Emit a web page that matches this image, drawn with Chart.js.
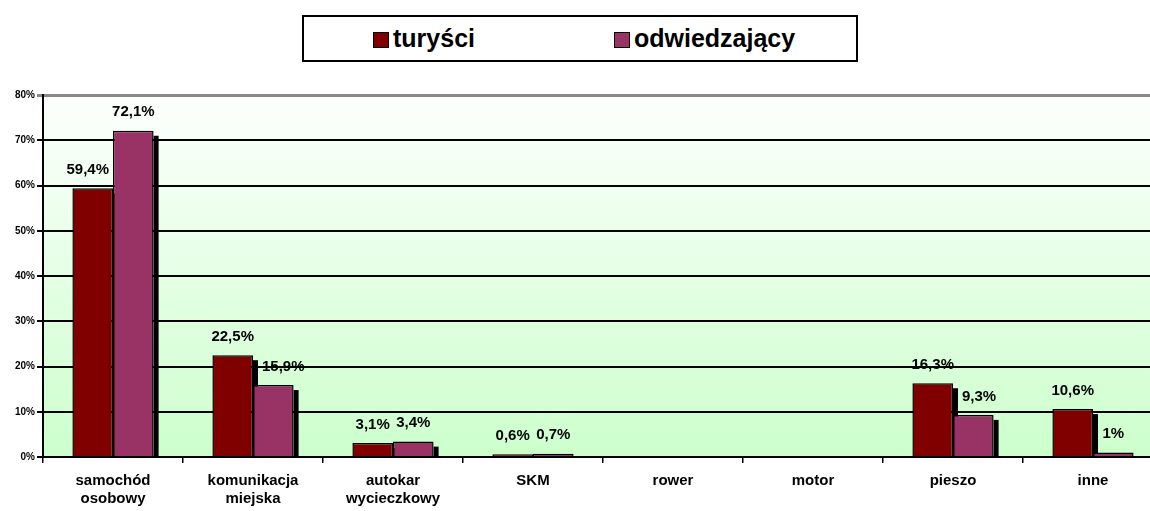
<!DOCTYPE html>
<html>
<head>
<meta charset="utf-8">
<script src="https://cdn.jsdelivr.net/npm/chart.js@4"></script>
<style>
  html, body { margin: 0; padding: 0; background: #fff; overflow: hidden; }
  #wrap { position: relative; width: 1150px; height: 511px; overflow: hidden; }
  #chart { position: absolute; left: 0; top: 0; }
  #legend {
    position: absolute; left: 302px; top: 15px; width: 552px; height: 43px;
    border: 2px solid #000; background: #fff;
    font: bold 25px "Liberation Sans", Arial, sans-serif; color: #000;
  }
  .item { position: absolute; top: 8px; line-height: 26px; white-space: nowrap; }
  .sw { display: inline-block; width: 14px; height: 14px; border: 1.5px solid #000; margin-right: 4px; vertical-align: -1px; }
</style>
</head>
<body>
<div id="wrap">
  <!-- obszar wykresu wychodzi poza prawą krawędź, jak w oryginale -->
  <canvas id="chart" width="1166" height="511"></canvas>
  <div id="legend">
    <span class="item" style="left:69px"><span class="sw" style="background:#800000"></span>turyści</span>
    <span class="item" style="left:310px"><span class="sw" style="background:#993366"></span>odwiedzający</span>
  </div>
</div>
<script>
// dane
const kategorie = [['samochód', 'osobowy'], ['komunikacja', 'miejska'], ['autokar', 'wycieczkowy'], 'SKM', 'rower', 'motor', 'pieszo', 'inne'];
const turysci = [59.4, 22.5, 3.1, 0.6, null, null, 16.3, 10.6];
const odwiedzajacy = [72.1, 15.9, 3.4, 0.7, null, null, 9.3, 1];
const yTicks = [0, 10, 20, 30, 40, 50, 60, 70, 80];

const FONT = '"Liberation Sans", Arial, sans-serif';
const CIEN = 5; // przesunięcie cienia słupka

// tło z gradientem w obszarze wykresu
const tloPlugin = {
    id: 'tlo',
    beforeDraw(chart) {
        const { ctx, chartArea: a } = chart;
        const g = ctx.createLinearGradient(0, a.top, 0, a.bottom);
        g.addColorStop(0, '#fdfffd');
        g.addColorStop(1, '#ccffcc');
        ctx.save();
        ctx.fillStyle = g;
        ctx.fillRect(a.left, a.top, a.right - a.left, a.bottom - a.top);
        ctx.restore();
    }
};

// cienie słupków + etykiety wartości
const slupkiPlugin = {
    id: 'slupki',
    beforeDatasetsDraw(chart) {
        const ctx = chart.ctx;
        ctx.save();
        ctx.fillStyle = '#000';
        chart.data.datasets.forEach((ds, i) => {
            chart.getDatasetMeta(i).data.forEach((bar, j) => {
                if (ds.data[j] == null) return;
                const p = bar.getProps(['x', 'y', 'base', 'width'], true);
                const right = p.x + p.width / 2;
                const top = Math.min(p.y + CIEN, p.base);
                ctx.fillRect(right, top, CIEN, p.base - top);
            });
        });
        ctx.restore();
    },
    afterDatasetsDraw(chart) {
        const ctx = chart.ctx;
        ctx.save();
        ctx.font = 'bold 15px ' + FONT;
        ctx.fillStyle = '#000';
        ctx.textAlign = 'center';
        ctx.textBaseline = 'bottom';
        const metas = chart.data.datasets.map((ds, i) => chart.getDatasetMeta(i));
        chart.data.datasets.forEach((ds, i) => {
            metas[i].data.forEach((bar, j) => {
                const v = ds.data[j];
                if (v == null) return;
                const p = bar.getProps(['x', 'y', 'width'], true);
                const txt = String(v).replace('.', ',') + '%';
                const w = ctx.measureText(txt).width;
                const yb = p.y - 11;
                let x = p.x;
                // odsuń etykietę od sąsiedniego, wyższego słupka
                if (i === 0 && metas[1] && odwiedzajacy[j] != null) {
                    const n = metas[1].data[j].getProps(['x', 'y', 'width'], true);
                    const nLeft = n.x - n.width / 2;
                    if (n.y < yb && x + w / 2 > nLeft - 4) x = nLeft - 4 - w / 2;
                }
                if (i === 1 && turysci[j] != null) {
                    const n = metas[0].data[j].getProps(['x', 'y', 'width'], true);
                    const shRight = n.x + n.width / 2 + CIEN;
                    if (n.y + CIEN < yb && x - w / 2 < shRight + 4) x = shRight + 4 + w / 2;
                }
                ctx.fillText(txt, x, yb);
            });
        });
        ctx.restore();
    }
};

new Chart(document.getElementById('chart').getContext('2d'), {
    type: 'bar',
    data: {
        labels: kategorie,
        datasets: [
            { label: 'turyści', data: turysci, backgroundColor: '#800000', borderColor: '#000', borderWidth: 1.5, borderSkipped: 'bottom' },
            { label: 'odwiedzający', data: odwiedzajacy, backgroundColor: '#993366', borderColor: '#000', borderWidth: 1.5, borderSkipped: 'bottom' }
        ]
    },
    options: {
        responsive: false,
        animation: false,
        events: [],
        layout: { padding: { top: 95, right: 3, left: 0, bottom: 0 } },
        datasets: { bar: { categoryPercentage: 0.58, barPercentage: 1 } },
        plugins: { legend: { display: false }, tooltip: { enabled: false } },
        scales: {
            x: {
                afterFit(s) { s.height = 54; },
                grid: { display: true, drawOnChartArea: false, drawTicks: true, tickLength: 6, color: '#000', lineWidth: 1.5, offset: true },
                border: { display: true, color: '#000', width: 2 },
                ticks: { color: '#000', font: { family: FONT, size: 15, weight: 'bold', lineHeight: 1.25 }, padding: 8, maxRotation: 0, autoSkip: false }
            },
            y: {
                min: 0, max: 80,
                afterFit(s) { s.width = 43; },
                afterBuildTicks(s) { s.ticks = yTicks.map(v => ({ value: v })); },
                grid: {
                    color: ctx => ctx.tick && ctx.tick.value === 80 ? '#888' : '#000',
                    lineWidth: ctx => ctx.tick && ctx.tick.value === 80 ? 3 : 2,
                    tickLength: 6, drawTicks: true
                },
                border: { display: true, color: '#000', width: 2 },
                ticks: { color: '#000', font: { family: FONT, size: 10, weight: 'bold' }, padding: 2, callback: v => v + '%' }
            }
        }
    },
    plugins: [tloPlugin, slupkiPlugin]
});
</script>
</body>
</html>
